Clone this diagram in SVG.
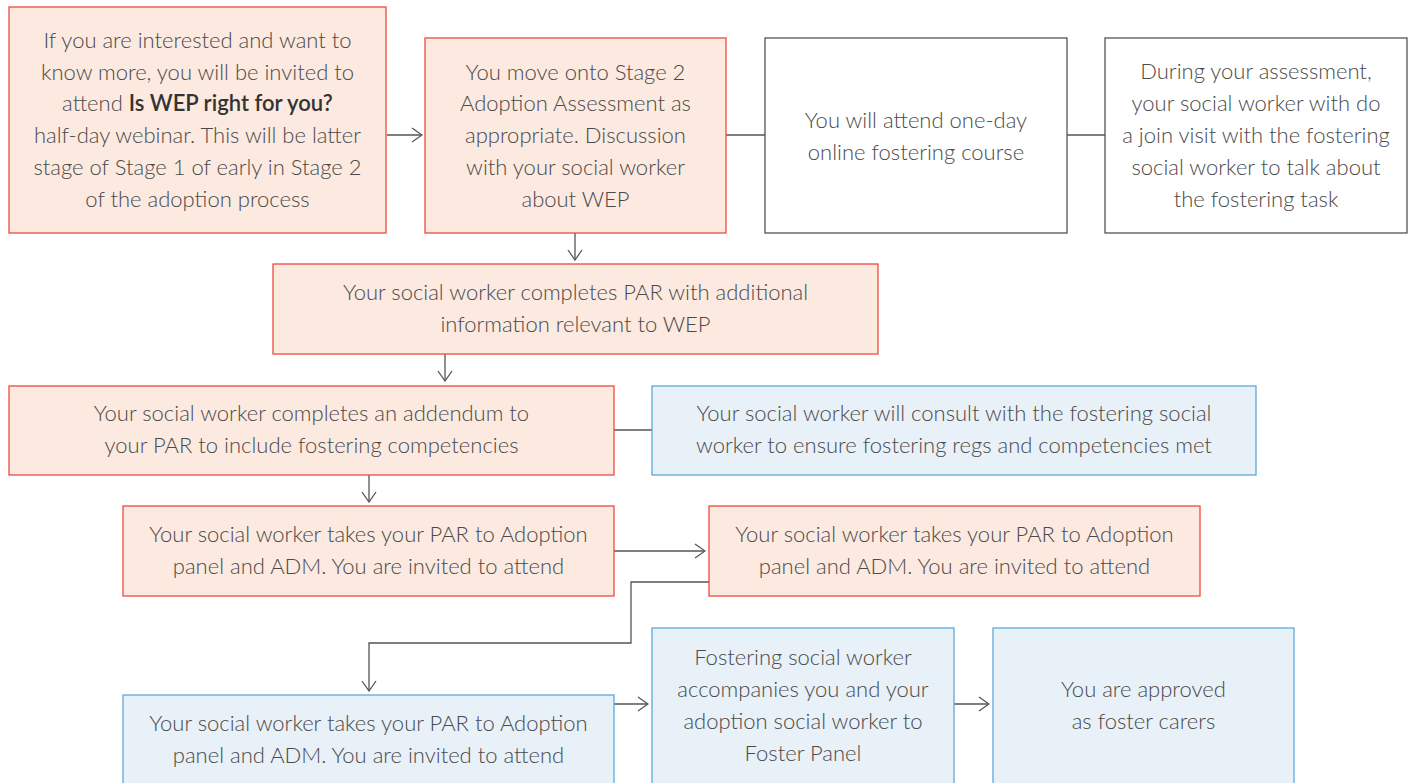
<svg xmlns="http://www.w3.org/2000/svg" width="1412" height="783" viewBox="0 0 1412 783">
<defs>
<style>
.pink{fill:#fce9e0;stroke:#ef4a3f;stroke-width:1.3}
.blue{fill:#e8f0f8;stroke:#5ea8dc;stroke-width:1.3}
.white{fill:#ffffff;stroke:#555555;stroke-width:1.3}
text{font-family:Lato,"Liberation Sans",sans-serif;font-weight:300;font-size:22px;fill:#4a4a4a;text-anchor:middle}
.b{font-weight:600;fill:#333333}
.c{fill:none;stroke:#555555;stroke-width:1.3}
</style>
<marker id="ah" viewBox="0 0 12 16" refX="11" refY="8" markerWidth="12" markerHeight="16" markerUnits="userSpaceOnUse" orient="auto">
<path d="M1,1 L11,8 L1,15" fill="none" stroke="#555555" stroke-width="1.3"/>
</marker>
</defs>
<rect width="1412" height="783" fill="#ffffff"/>
<g id="connectors">
<path class="c" d="M387,135 H422" marker-end="url(#ah)"/>
<path class="c" d="M726,135 H765"/>
<path class="c" d="M1067,135 H1105"/>
<path class="c" d="M575,233 V260" marker-end="url(#ah)"/>
<path class="c" d="M445,354 V381" marker-end="url(#ah)"/>
<path class="c" d="M614,430 H652"/>
<path class="c" d="M369,475 V502" marker-end="url(#ah)"/>
<path class="c" d="M614,551 H705" marker-end="url(#ah)"/>
<path class="c" d="M709,582 H631 V643 H369 V691" marker-end="url(#ah)"/>
<path class="c" d="M614,704 H648" marker-end="url(#ah)"/>
<path class="c" d="M954,704 H989" marker-end="url(#ah)"/>
</g>
<g id="nodeA">
<rect class="pink" x="9" y="7" width="377" height="226"/>
<text x="197.5" y="48">If you are interested and want to</text>
<text x="197.5" y="80">know more, you will be invited to</text>
<text x="197.5" y="111">attend <tspan class="b">Is WEP right for you?</tspan></text>
<text x="197.5" y="143">half-day webinar. This will be latter</text>
<text x="197.5" y="175">stage of Stage 1 of early in Stage 2</text>
<text x="197.5" y="207">of the adoption process</text>
</g>
<g id="nodeB">
<rect class="pink" x="425" y="38" width="301" height="195"/>
<text x="575.5" y="80">You move onto Stage 2</text>
<text x="575.5" y="111">Adoption Assessment as</text>
<text x="575.5" y="143">appropriate. Discussion</text>
<text x="575.5" y="175">with your social worker</text>
<text x="575.5" y="207">about WEP</text>
</g>
<g id="nodeC">
<rect class="white" x="765" y="38" width="302" height="195"/>
<text x="916" y="128">You will attend one-day</text>
<text x="916" y="160">online fostering course</text>
</g>
<g id="nodeD">
<rect class="white" x="1105" y="38" width="302" height="195"/>
<text x="1256" y="79">During your assessment,</text>
<text x="1256" y="111">your social worker with do</text>
<text x="1256" y="143">a join visit with the fostering</text>
<text x="1256" y="175">social worker to talk about</text>
<text x="1256" y="207">the fostering task</text>
</g>
<g id="nodeE">
<rect class="pink" x="273" y="264" width="605" height="90"/>
<text x="575.5" y="300">Your social worker completes PAR with additional</text>
<text x="575.5" y="332">information relevant to WEP</text>
</g>
<g id="nodeF">
<rect class="pink" x="9" y="386" width="605" height="89"/>
<text x="311.5" y="421">Your social worker completes an addendum to</text>
<text x="311.5" y="453">your PAR to include fostering competencies</text>
</g>
<g id="nodeG">
<rect class="blue" x="652" y="386" width="604" height="89"/>
<text x="954" y="421">Your social worker will consult with the fostering social</text>
<text x="954" y="453">worker to ensure fostering regs and competencies met</text>
</g>
<g id="nodeH">
<rect class="pink" x="123" y="506" width="491" height="90"/>
<text x="368.5" y="542">Your social worker takes your PAR to Adoption</text>
<text x="368.5" y="574">panel and ADM. You are invited to attend</text>
</g>
<g id="nodeI">
<rect class="pink" x="709" y="506" width="491" height="90"/>
<text x="954.5" y="542">Your social worker takes your PAR to Adoption</text>
<text x="954.5" y="574">panel and ADM. You are invited to attend</text>
</g>
<g id="nodeJ">
<rect class="blue" x="123" y="695" width="491" height="100"/>
<text x="368.5" y="731">Your social worker takes your PAR to Adoption</text>
<text x="368.5" y="763">panel and ADM. You are invited to attend</text>
</g>
<g id="nodeK">
<rect class="blue" x="652" y="628" width="302" height="170"/>
<text x="803" y="665">Fostering social worker</text>
<text x="803" y="697">accompanies you and your</text>
<text x="803" y="729">adoption social worker to</text>
<text x="803" y="761">Foster Panel</text>
</g>
<g id="nodeL">
<rect class="blue" x="993" y="628" width="301" height="170"/>
<text x="1143.5" y="697">You are approved</text>
<text x="1143.5" y="729">as foster carers</text>
</g>
</svg>
